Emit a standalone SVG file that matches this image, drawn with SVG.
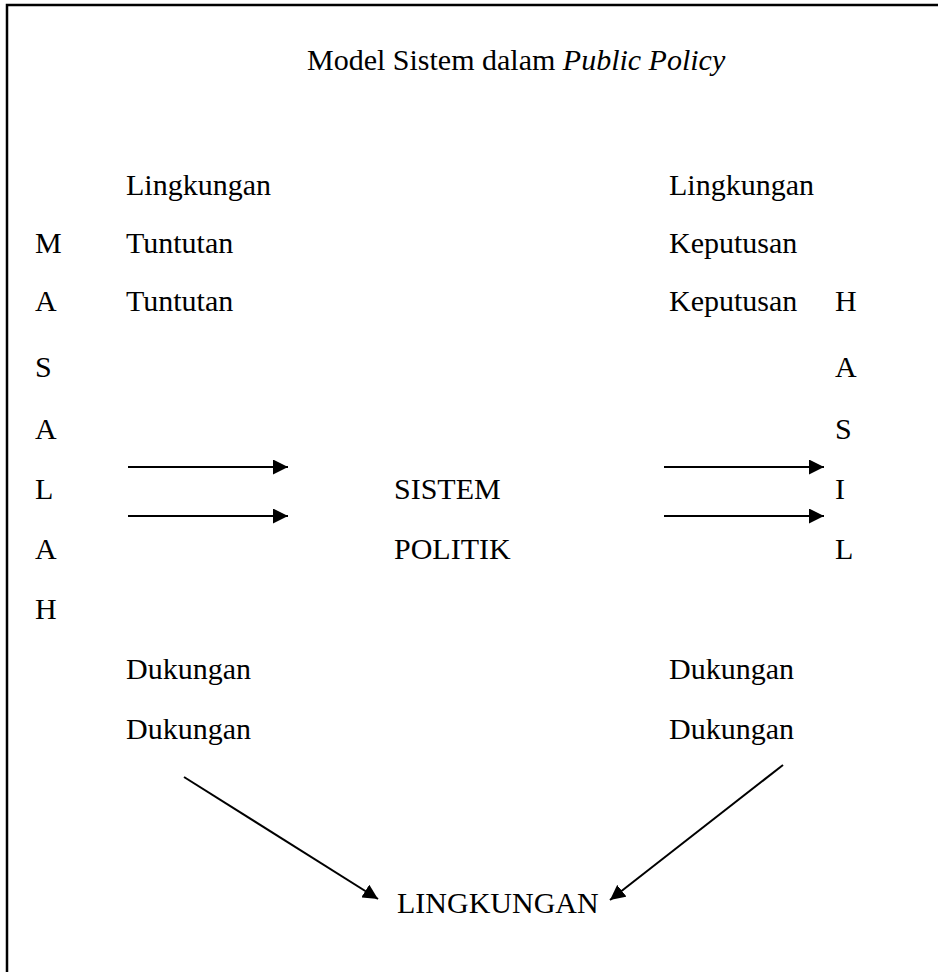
<svg xmlns="http://www.w3.org/2000/svg" width="938" height="972" viewBox="0 0 938 972">
<style>
text{font-family:"Liberation Serif","Times New Roman",serif;font-size:30px;fill:#000}
.it{font-style:italic}
.c{stroke:#000;stroke-width:2;fill:none}
</style>
<defs>
<marker id="ah" markerUnits="userSpaceOnUse" markerWidth="16" markerHeight="15" refX="15" refY="7.5" orient="auto">
<path d="M0,0 L15,7.5 L0,15 z" fill="#000"/>
</marker>
</defs>
<rect width="938" height="972" fill="#fff"/>
<path d="M7,972 V5 H938" stroke="#000" stroke-width="2.5" fill="none"/>
<g id="title"><text x="307" y="70">Model Sistem dalam <tspan class="it">Public Policy</tspan></text></g>
<g id="masalah">
<text x="35" y="253">M</text>
<text x="35" y="311">A</text>
<text x="35" y="377">S</text>
<text x="35" y="439">A</text>
<text x="35" y="499">L</text>
<text x="35" y="559">A</text>
<text x="35" y="619">H</text>
</g>
<g id="input-top">
<text x="126" y="195">Lingkungan</text>
<text x="126" y="253">Tuntutan</text>
<text x="126" y="311">Tuntutan</text>
</g>
<g id="output-top">
<text x="669" y="195">Lingkungan</text>
<text x="669" y="253">Keputusan</text>
<text x="669" y="311">Keputusan</text>
</g>
<g id="hasil">
<text x="835" y="311">H</text>
<text x="835" y="377">A</text>
<text x="835" y="439">S</text>
<text x="835" y="499">I</text>
<text x="835" y="559">L</text>
</g>
<g id="sistem-politik">
<text x="394" y="499">SISTEM</text>
<text x="394" y="559">POLITIK</text>
</g>
<g id="input-bottom">
<text x="126" y="679">Dukungan</text>
<text x="126" y="739">Dukungan</text>
</g>
<g id="output-bottom">
<text x="669" y="679">Dukungan</text>
<text x="669" y="739">Dukungan</text>
</g>
<g id="lingkungan">
<text x="397" y="913">LINGKUNGAN</text>
</g>
<g id="connectors">
<line class="c" x1="128" y1="467" x2="288" y2="467" marker-end="url(#ah)"/>
<line class="c" x1="128" y1="516" x2="288" y2="516" marker-end="url(#ah)"/>
<line class="c" x1="664" y1="467" x2="824" y2="467" marker-end="url(#ah)"/>
<line class="c" x1="664" y1="516" x2="824" y2="516" marker-end="url(#ah)"/>
<line class="c" x1="184" y1="777" x2="378" y2="899" marker-end="url(#ah)"/>
<line class="c" x1="783" y1="765" x2="610" y2="900" marker-end="url(#ah)"/>
</g>
</svg>
